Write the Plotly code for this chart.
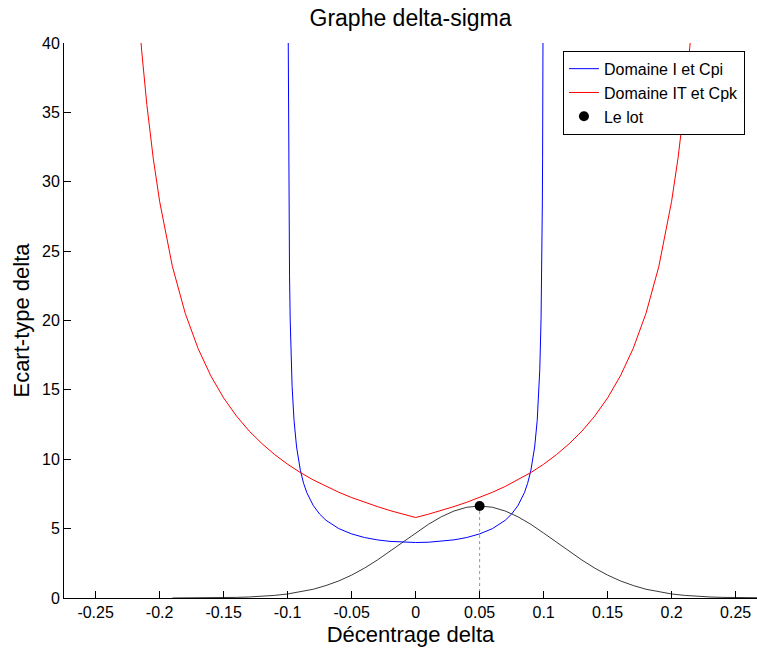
import plotly.graph_objects as go

# ---- data ----
blue_delta = [-0.0995, -0.0992, -0.099, -0.0985, -0.098, -0.097, -0.0965, -0.095, -0.093, -0.09,
              -0.0875, -0.085, -0.08, -0.075, -0.07, -0.06, -0.05, -0.04, -0.03, -0.02, -0.01, 0.0,
              0.01, 0.02, 0.03, 0.04, 0.05, 0.06, 0.07, 0.075, 0.08, 0.085, 0.0875, 0.09, 0.093,
              0.095, 0.0965, 0.097, 0.098, 0.0985, 0.099, 0.0992, 0.0995]
blue_sigma = [40.0, 31.7, 28.4, 23.2, 20.1, 16.45, 15.25, 12.81, 10.88, 9.18,
              8.26, 7.59, 6.67, 6.05, 5.60, 5.00, 4.62, 4.36, 4.19, 4.08, 4.02, 4.00,
              4.02, 4.08, 4.19, 4.36, 4.62, 5.00, 5.60, 6.05, 6.67, 7.59, 8.26, 9.18, 10.88,
              12.81, 15.25, 16.45, 20.1, 23.2, 28.4, 31.7, 40.0]

red_delta = [-0.2145, -0.214, -0.21, -0.205, -0.20, -0.19, -0.18, -0.17, -0.16, -0.15, -0.14,
             -0.13, -0.12, -0.11, -0.10, -0.09, -0.08, -0.07, -0.06, -0.05, -0.04, -0.03,
             -0.02, -0.01, 0.0, 0.01, 0.02, 0.03, 0.04, 0.05, 0.06, 0.07, 0.08, 0.09, 0.10,
             0.11, 0.12, 0.13, 0.14, 0.15, 0.16, 0.17, 0.18, 0.19, 0.20, 0.205, 0.21, 0.214, 0.2145]
red_sigma = [40.0, 39.43, 35.57, 31.70, 28.59, 23.89, 20.52, 17.99, 16.01, 14.42, 13.12,
             12.03, 11.12, 10.33, 9.64, 9.04, 8.51, 8.04, 7.62, 7.24, 6.90, 6.59,
             6.30, 6.04, 5.80, 6.04, 6.30, 6.59, 6.90, 7.24, 7.62, 8.04, 8.51, 9.04, 9.64,
             10.33, 11.12, 12.03, 13.12, 14.42, 16.01, 17.99, 20.52, 23.89, 28.59, 31.70, 35.57, 39.43, 40.0]

dist_delta = [-0.19, -0.18, -0.17, -0.16, -0.15, -0.14, -0.13, -0.12, -0.11, -0.10, -0.09,
              -0.08, -0.07, -0.06, -0.05, -0.04, -0.03, -0.02, -0.01, 0.0, 0.01, 0.02, 0.03,
              0.04, 0.05, 0.06, 0.07, 0.08, 0.09, 0.10, 0.11, 0.12, 0.13, 0.14, 0.15, 0.16,
              0.17, 0.18, 0.19, 0.20, 0.21, 0.22, 0.23, 0.24, 0.25, 0.26, 0.27, 0.28, 0.29]
dist_value = [0.002, 0.004, 0.008, 0.015, 0.026, 0.044, 0.074, 0.12, 0.19, 0.29, 0.44,
              0.63, 0.90, 1.23, 1.65, 2.15, 2.73, 3.36, 4.02, 4.68, 5.31, 5.85, 6.27,
              6.54, 6.63, 6.54, 6.27, 5.85, 5.31, 4.68, 4.02, 3.36, 2.73, 2.15, 1.65, 1.23,
              0.90, 0.63, 0.44, 0.29, 0.19, 0.12, 0.074, 0.044, 0.026, 0.015, 0.008, 0.004, 0.002]

lot_delta = [0.05]
lot_sigma = [6.63]

x_ticks = [-0.25, -0.2, -0.15, -0.1, -0.05, 0, 0.05, 0.1, 0.15, 0.2, 0.25]
x_labels = ["-0.25", "-0.2", "-0.15", "-0.1", "-0.05", "0", "0.05", "0.1", "0.15", "0.2", "0.25"]
y_ticks = [0, 5, 10, 15, 20, 25, 30, 35, 40]

FONT = "Arial, Liberation Sans, Helvetica, sans-serif"

fig = go.Figure()
fig.add_trace(go.Scatter(x=dist_delta, y=dist_value, mode="lines",
                         line=dict(color="#3a3a3a", width=1), showlegend=False, hoverinfo="skip"))
fig.add_trace(go.Scatter(x=[lot_delta[0], lot_delta[0]], y=[0, lot_sigma[0]], mode="lines",
                         line=dict(color="#999999", width=1, dash="dot"), showlegend=False,
                         hoverinfo="skip"))
fig.add_trace(go.Scatter(x=blue_delta, y=blue_sigma, mode="lines", name="Domaine I et Cpi",
                         line=dict(color="#0000ff", width=1)))
fig.add_trace(go.Scatter(x=red_delta, y=red_sigma, mode="lines", name="Domaine IT et Cpk",
                         line=dict(color="#ff0000", width=1)))
fig.add_trace(go.Scatter(x=lot_delta, y=lot_sigma, mode="markers", name="Le lot",
                         marker=dict(color="black", size=10)))

fig.update_layout(
    width=757, height=648,
    margin=dict(l=64, r=0, t=43, b=50),
    paper_bgcolor="white", plot_bgcolor="white",
    font=dict(family=FONT, color="black", size=16),
    title=dict(text="Graphe delta-sigma", x=0.5, xref="paper", xanchor="center",
               y=1 - 18 / 648, yref="container", yanchor="middle",
               font=dict(size=23, family=FONT, color="black")),
    showlegend=True,
    legend=dict(x=0.72, y=0.986, xanchor="left", yanchor="top",
                bordercolor="black", borderwidth=1, bgcolor="white",
                font=dict(size=16, family=FONT, color="black"),
                tracegroupgap=0, itemwidth=30),
)
fig.update_xaxes(range=[-0.2747, 0.2667], tickvals=x_ticks, ticktext=x_labels,
                 ticks="inside", ticklen=7, tickcolor="black", showline=True,
                 linecolor="black", linewidth=1, showgrid=False, zeroline=False, mirror=False,
                 title=dict(text="Décentrage delta", font=dict(size=22, family=FONT), standoff=6),
                 automargin=False, tickfont=dict(size=16))
fig.update_yaxes(range=[0, 40], tickvals=y_ticks, ticks="inside", ticklen=7, tickcolor="black",
                 showline=True, linecolor="black", linewidth=1, showgrid=False, zeroline=False,
                 mirror=False,
                 title=dict(text="Ecart-type delta", font=dict(size=22, family=FONT), standoff=6),
                 automargin=False, tickfont=dict(size=16))

fig.write_html("out.html")
